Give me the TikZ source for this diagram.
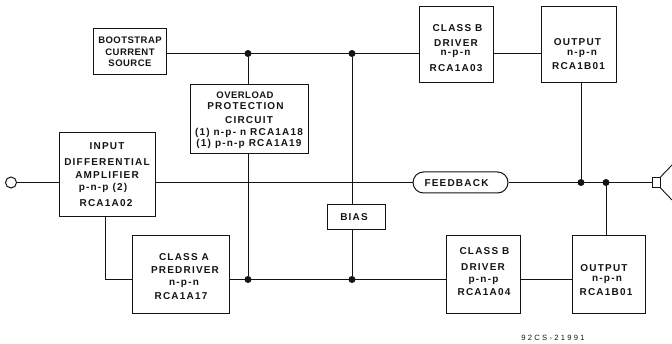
\documentclass[tikz,border=0pt]{standalone}
\usepackage{fontspec}
\setmainfont{Liberation Sans}[LetterSpace=12]
\newfontfamily\tightfont{Liberation Sans}[LetterSpace=5]
\newfontfamily\codefont{Liberation Sans}[LetterSpace=30]
\usetikzlibrary{calc,shapes.misc}
\definecolor{ink}{HTML}{141414}
\tikzset{
 x=1pt,y=-1pt,
 wire/.style={draw=ink,line width=0.9pt},
 blockbox/.style={draw=ink,line width=1pt,minimum width=0pt,minimum height=0pt,inner sep=0pt},
 lab/.style={text=ink,font=\fontsize{10}{10}\selectfont\bfseries,inner sep=0pt,align=center},
 tlab/.style={text=ink,font=\tightfont\fontsize{9.5}{9.5}\selectfont\bfseries,inner sep=0pt,align=center},
 dotj/.style={circle,fill=ink,inner sep=0pt,minimum size=7pt},
}
\newcommand{\blk}[5]{\node[blockbox,minimum width=#3-#1,minimum height=#4-#2] (#5) at ({(#1+#3)/2},{(#2+#4)/2+0.4}) {};}
\begin{document}
\begin{tikzpicture}
\useasboundingbox (0,0) rectangle (672,344);
\blk{93}{28}{166}{74}{boot}
\blk{190}{84}{308}{153}{over}
\blk{59}{132}{155}{216}{input}
\blk{132}{235}{229}{313}{pre}
\blk{327}{204}{385}{229}{bias}
\blk{419}{6}{493}{82}{cbt}
\blk{541}{6}{616}{82}{outt}
\blk{446}{235}{520}{313}{cbb}
\blk{572}{235}{645}{313}{outb}
\node[blockbox,rounded rectangle,minimum width=95pt,minimum height=21pt] (fb) at (460.5,182.5) {};
\node[draw=ink,line width=1pt,circle,inner sep=0pt,minimum size=11pt] (in) at (11,182.5) {};
\node[dotj] (j1) at (248,53.5) {};
\node[dotj] (j2) at (352,53.5) {};
\node[dotj] (j3) at (248,279.5) {};
\node[dotj] (j4) at (352,279.5) {};
\node[dotj] (j5) at (581,182.5) {};
\node[dotj] (j6) at (606,182.5) {};
\node[blockbox,minimum width=8pt,minimum height=10pt] (spk) at (656,182.5) {};
\coordinate (s1) at (672,165);
\coordinate (s2) at (672,200);
\draw[wire] (spk.north east) -- (s1);
\draw[wire] (spk.south east) -- (s2);
\draw[wire] (in) -- (input.west |- in);
\draw[wire] (input.east |- fb) -- (fb.west);
\draw[wire] (fb.east) -- (spk.west);
\draw[wire] (boot.east |- j1) -- (cbt.west |- j1);
\draw[wire] (cbt.east |- j1) -- (outt.west |- j1);
\draw[wire] (j1) -- (j1 |- over.north);
\draw[wire] (j1 |- over.south) -- (j3);
\draw[wire] (j2) -- (j2 |- bias.north);
\draw[wire] (j2 |- bias.south) -- (j4);
\draw[wire] (pre.east |- j3) -- (cbb.west |- j3);
\draw[wire] (cbb.east |- j3) -- (outb.west |- j3);
\draw[wire] (j5 |- outt.south) -- (j5);
\draw[wire] (j6) -- (j6 |- outb.north);
\coordinate (c1) at (105,279.5);
\draw[wire] (c1 |- input.south) -- (c1) -- (pre.west |- c1);
\node[tlab] at (130,40) {BOOTSTRAP};
\node[tlab] at (130,52) {CURRENT};
\node[tlab] at (130,63) {SOURCE};
\node[tlab] at (245,95) {OVERLOAD};
\node[lab] at (245.5,106) {PROTECTION};
\node[lab] at (249,120) {CIRCUIT};
\node[lab] at (249,132.5) {(1) n-p- n RCA1A18};
\node[lab] at (249,143.5) {(1) p-n-p RCA1A19};
\node[lab] at (107,146) {INPUT};
\node[lab] at (107,162.5) {DIFFERENTIAL};
\node[lab] at (107,175) {AMPLIFIER};
\node[lab] at (103,188) {p-n-p (2)};
\node[lab] at (106,203.5) {RCA1A02};
\node[lab] at (184,257) {CLASS A};
\node[lab] at (185,270) {PREDRIVER};
\node[lab] at (184,283.5) {n-p-n};
\node[lab] at (181,296.5) {RCA1A17};
\node[lab] at (457.5,28) {CLASS B};
\node[lab] at (456,43) {DRIVER};
\node[lab] at (455.5,54) {n-p-n};
\node[lab] at (456,68) {RCA1A03};
\node[lab] at (577.5,42) {OUTPUT};
\node[lab] at (582,54) {n-p-n};
\node[lab] at (578.5,66.5) {RCA1B01};
\node[lab] at (484.5,251) {CLASS B};
\node[lab] at (483,267) {DRIVER};
\node[lab] at (483.5,280.5) {p-n-p};
\node[lab] at (484,292.5) {RCA1A04};
\node[lab] at (604,268) {OUTPUT};
\node[lab] at (607,279.5) {n-p-n};
\node[lab] at (606,292.5) {RCA1B01};
\node[lab] at (456.5,183.5) {FEEDBACK};
\node[lab] at (354,217) {BIAS};
\node[lab,font=\codefont\fontsize{7.6}{7.6}\selectfont] at (553,338) {92CS-21991};
\end{tikzpicture}
\end{document}
